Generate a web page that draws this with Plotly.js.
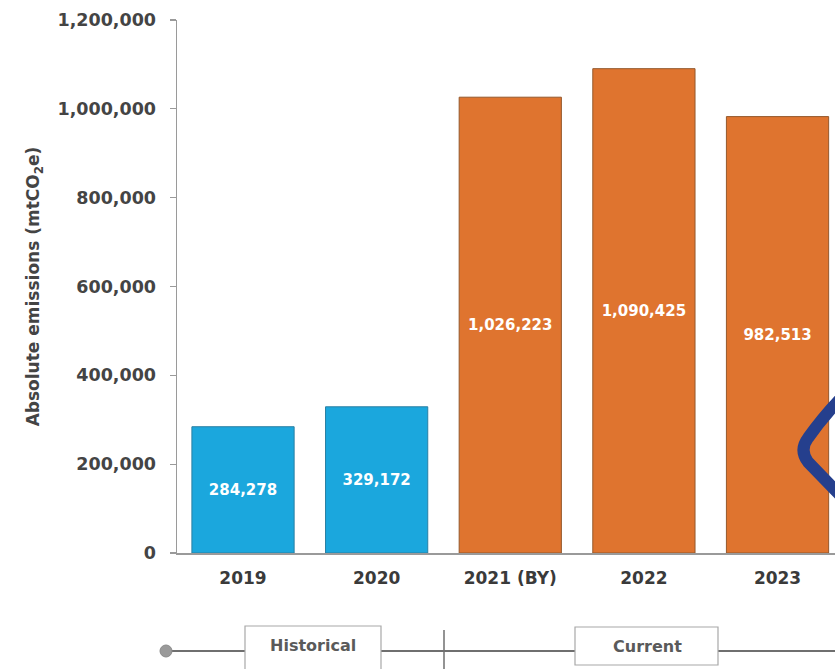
<!DOCTYPE html>
<html>
<head>
<meta charset="utf-8">
<script src="https://cdn.plot.ly/plotly-3.0.1.min.js"></script>
<style>html,body{margin:0;padding:0;background:#fff;}#chart{width:835px;height:669px;}</style>
</head>
<body>
<div id="chart"></div>
<script>
const categories = ["2019", "2020", "2021 (BY)", "2022", "2023"];
const emissions = [284278, 329172, 1026223, 1090425, 982513];
const barColors = ["#1ba7dd", "#1ba7dd", "#df742f", "#df742f", "#df742f"];
const barOutline = ["#2a7fa3", "#2a7fa3", "#94582c", "#94582c", "#94582c"];
const yTicks = [0, 200000, 400000, 600000, 800000, 1000000, 1200000];
const phaseLabels = ["Historical", "Current"];

const FONT = "DejaVu Sans, Arial, sans-serif";

const trace = {
  type: "bar",
  x: [0, 1, 2, 3, 4],
  y: emissions,
  width: 0.765,
  marker: { color: barColors, line: { color: barOutline, width: 1 } },
  texttemplate: "%{y:,}",
  textposition: "inside",
  insidetextanchor: "middle",
  textangle: 0,
  insidetextfont: { family: FONT, size: 15, color: "#ffffff", weight: "bold" },
  hoverinfo: "skip",
  cliponaxis: false
};

// pixel -> paper helpers (plot area: x 177..835, y 20..553)
const L = 177, R = 835, T = 20, B = 553;
const px = v => (v - L) / (R - L);
const py = v => (B - v) / (B - T);

const shapes = [
  // timeline line
  { type: "line", xref: "paper", yref: "paper", x0: px(170), x1: px(840), y0: py(651), y1: py(651),
    line: { color: "#6f6f6f", width: 2 } },
  // start circle
  { type: "circle", xref: "paper", yref: "paper", x0: px(160), x1: px(172), y0: py(657), y1: py(645),
    fillcolor: "#9a9a9a", line: { color: "#8a8a8a", width: 1 } },
  // separator
  { type: "line", xref: "paper", yref: "paper", x0: px(444), x1: px(444), y0: py(630), y1: py(672),
    line: { color: "#6f6f6f", width: 1.5 } },
  // Historical box
  { type: "rect", xref: "paper", yref: "paper", x0: px(245), x1: px(381), y0: py(626), y1: py(675),
    fillcolor: "#ffffff", line: { color: "#a8a8a8", width: 1.2 } },
  // Current box
  { type: "rect", xref: "paper", yref: "paper", x0: px(575), x1: px(718), y0: py(627), y1: py(665),
    fillcolor: "#ffffff", line: { color: "#a8a8a8", width: 1.2 } },
  // decorative navy chevron
  { type: "path", xref: "paper", yref: "paper",
    path: `M ${px(842)},${py(397)} Q ${px(822)},${py(418)} ${px(808)},${py(438)} Q ${px(799)},${py(450)} ${px(808)},${py(462)} L ${px(842)},${py(497)}`,
    line: { color: "#253f8d", width: 12 } }
];

const annotations = [
  { xref: "paper", yref: "paper", x: px(313), y: py(645), text: phaseLabels[0], showarrow: false,
    font: { family: FONT, size: 16, color: "#5a5a5a", weight: "bold" }, xanchor: "center", yanchor: "middle" },
  { xref: "paper", yref: "paper", x: px(647), y: py(646), text: phaseLabels[1], showarrow: false,
    font: { family: FONT, size: 16, color: "#5a5a5a", weight: "bold" }, xanchor: "center", yanchor: "middle" }
];

const layout = {
  width: 835, height: 669,
  margin: { l: L, r: 835 - R, t: T, b: 669 - B, pad: 0 },
  paper_bgcolor: "#ffffff", plot_bgcolor: "#ffffff",
  showlegend: false,
  bargap: 0.2,
  xaxis: {
    range: [-0.494, 4.43],
    tickmode: "array", tickvals: [0, 1, 2, 3, 4], ticktext: categories,
    showline: true, linecolor: "#9a9a9a", linewidth: 1.5,
    showgrid: false, zeroline: false, ticks: "",
    ticklabelstandoff: 9,
    tickfont: { family: FONT, size: 17, color: "#3a3a3a", weight: "bold" },
    fixedrange: true
  },
  yaxis: {
    range: [0, 1200000],
    tickmode: "array", tickvals: yTicks,
    tickformat: ",",
    showline: true, linecolor: "#9a9a9a", linewidth: 1.5,
    showgrid: false, zeroline: false,
    ticks: "outside", ticklen: 6, tickcolor: "#9a9a9a", tickwidth: 1.2,
    ticklabelstandoff: 10,
    tickfont: { family: FONT, size: 17.5, color: "#444444", weight: "bold" },
    title: { text: "Absolute emissions (mtCO<sub>2</sub>e)", standoff: 13,
      font: { family: FONT, size: 17, color: "#444444", weight: "bold" } },
    automargin: false,
    fixedrange: true
  },
  shapes: shapes,
  annotations: annotations
};

Plotly.newPlot("chart", [trace], layout, { displayModeBar: false, staticPlot: true });
</script>
</body>
</html>
